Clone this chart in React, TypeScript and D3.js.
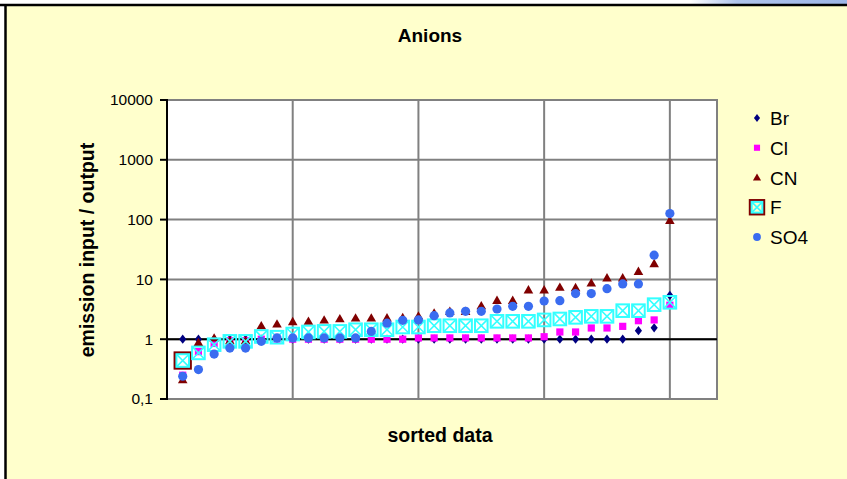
import React from "react";
import * as d3 from "d3";

const W = 847;
const H = 479;

const seriesNames = ["Br", "Cl", "CN", "F", "SO4"];

const brValues = [1, 1, 1, 1, 1, 1, 1, 1, 1, 1, 1, 1, 1, 1, 1, 1, 1, 1, 1, 1, 1, 1, 1, 1, 1, 1, 1, 1, 1, 1.39, 1.55, 5.4];
const clValues = [0.25, 0.62, 0.85, 0.95, 0.95, 1, 1, 1, 1, 1, 1, 1, 1, 1, 1, 1.05, 1.05, 1.05, 1.05, 1.05, 1.05, 1.05, 1.05, 1.1, 1.32, 1.32, 1.54, 1.54, 1.64, 2.04, 2.1, 3.7];
const cnValues = [0.21, 0.88, 1.05, 0.95, 0.95, 1.68, 1.8, 1.97, 2.0, 2.1, 2.2, 2.26, 2.26, 2.28, 2.3, 2.45, 2.75, 2.92, 2.92, 3.63, 4.46, 4.46, 6.7, 6.7, 7.4, 7.3, 8.7, 10.6, 10.6, 13.6, 18.4, 97];
const fValues = [0.44, 0.59, 0.81, 0.92, 0.92, 1.11, 1.08, 1.22, 1.32, 1.35, 1.35, 1.44, 1.44, 1.44, 1.6, 1.6, 1.68, 1.68, 1.68, 1.68, 1.99, 1.99, 1.99, 2.1, 2.18, 2.32, 2.41, 2.41, 3.0, 3.0, 3.78, 4.14];
const so4Values = [0.24, 0.31, 0.565, 0.71, 0.71, 0.92, 1.05, 1.05, 1.05, 1.05, 1.05, 1.05, 1.35, 1.85, 2.07, 2.1, 2.47, 2.75, 2.92, 2.92, 3.2, 3.55, 3.55, 4.35, 4.4, 5.8, 5.8, 7.0, 8.4, 8.4, 25.4, 126];

const yTickValues = [0.1, 1, 10, 100, 1000, 10000];
const yTickLabels = ["0,1", "1", "10", "100", "1000", "10000"];
const xGridValues = [8, 16, 24, 32];

const FONT = "'Liberation Sans', Arial, Helvetica, sans-serif";
const C_BR = "#000080";
const C_CL = "#FF00FF";
const C_CN = "#800000";
const C_F = "#33FFFF";
const C_SO4 = "#3A6CF0";

const plot = { left: 167, right: 717, top: 100, bottom: 399 };

const x = d3.scaleLinear().domain([0, 35]).range([plot.left, plot.right]);
const y = d3.scaleLog().domain([0.1, 10000]).range([plot.bottom, plot.top]);

function FMarker({ cx, cy, first, s }: { cx: number; cy: number; first?: boolean; s: number }) {
  return (
    <g transform={`translate(${cx},${cy})`}>
      {first && <rect x={-s - 1.6} y={-s - 1.6} width={2 * s + 3.2} height={2 * s + 3.2} fill="none" stroke={C_CN} strokeWidth={2.5} />}
      <rect x={-s} y={-s} width={2 * s} height={2 * s} fill="none" stroke={C_F} strokeWidth={2} />
      <path d={`M${-s},${-s}L${s},${s}M${s},${-s}L${-s},${s}`} stroke={C_F} strokeWidth={1.6} />
    </g>
  );
}

function Marker({ name, cx, cy, first, k = 1 }: { name: string; cx: number; cy: number; first?: boolean; k?: number }) {
  if (name === "Br") return <path d={`M0,${-4.6 * k}L${3.6 * k},0L0,${4.6 * k}L${-3.6 * k},0Z`} transform={`translate(${cx},${cy})`} fill={C_BR} />;
  if (name === "Cl") return <rect x={cx - 3.6 * k} y={cy - 3.6 * k} width={7.2 * k} height={7.2 * k} fill={C_CL} />;
  if (name === "CN") return <path d={`M0,${-4.8 * k}L${4.8 * k},${3.6 * k}L${-4.8 * k},${3.6 * k}Z`} transform={`translate(${cx},${cy})`} fill={C_CN} />;
  if (name === "F") return <FMarker cx={cx} cy={cy} first={first} s={6.3 * k} />;
  return <circle cx={cx} cy={cy} r={4.6 * k} fill={C_SO4} />;
}

const seriesValues: Record<string, number[]> = {
  Br: brValues,
  Cl: clValues,
  CN: cnValues,
  F: fValues,
  SO4: so4Values,
};

export default function App() {
  const legendY = d3.scalePoint<string>().domain(seriesNames).range([118, 237]);
  return (
    <svg width={W} height={H} style={{ display: "block", position: "absolute", left: 0, top: 0 }} fontFamily={FONT}>
      <rect x={0} y={0} width={W} height={H} fill="#FFFFFF" />
      <defs>
        <linearGradient id="topblue" x1="0" x2="1" y1="0" y2="0">
          <stop offset="0" stopColor="#AFC4EC" stopOpacity={0} />
          <stop offset="0.3" stopColor="#AFC4EC" stopOpacity={1} />
          <stop offset="1" stopColor="#9DB6E8" stopOpacity={1} />
        </linearGradient>
      </defs>
      <rect x={690} y={0} width={157} height={6} fill="url(#topblue)" />
      <rect x={5} y={5} width={W} height={H} fill="#FFFFCC" />
      <line x1={0} x2={W} y1={5} y2={5} stroke="#000" strokeWidth={2.5} />
      <line x1={5.5} x2={5.5} y1={4} y2={H} stroke="#000" strokeWidth={2.5} />

      <text x={430} y={42} textAnchor="middle" fontWeight="bold" fontSize={19}>Anions</text>

      <rect x={plot.left} y={plot.top} width={plot.right - plot.left} height={plot.bottom - plot.top} fill="#FFFFFF" stroke="#808080" strokeWidth={2} />
      {yTickValues.slice(1, -1).map((v) => (
        <line key={"hg" + v} x1={plot.left} x2={plot.right} y1={y(v)} y2={y(v)} stroke="#808080" strokeWidth={2} />
      ))}
      {xGridValues.map((v) => (
        <line key={"vg" + v} x1={x(v)} x2={x(v)} y1={plot.top} y2={plot.bottom} stroke="#808080" strokeWidth={2} />
      ))}
      <line x1={plot.left} x2={plot.right} y1={y(1)} y2={y(1)} stroke="#000" strokeWidth={2} />
      <line x1={plot.left} x2={plot.left} y1={plot.top - 1} y2={plot.bottom + 1} stroke="#000" strokeWidth={2} />
      {yTickValues.map((v, i) => (
        <g key={"yt" + v}>
          <line x1={plot.left - 7} x2={plot.left} y1={y(v)} y2={y(v)} stroke="#000" strokeWidth={2} />
          <text x={153} y={y(v)} dy="0.35em" textAnchor="end" fontSize={15.5}>{yTickLabels[i]}</text>
        </g>
      ))}

      {seriesNames.map((name) => (
        <g key={name}>
          {seriesValues[name].map((v, i) => (
            <Marker key={i} name={name} cx={x(i + 1)} cy={y(v)} first={i === 0} />
          ))}
        </g>
      ))}

      <text transform={`translate(94,250) rotate(-90)`} textAnchor="middle" fontWeight="bold" fontSize={19.5}>emission input / output</text>
      <text x={440} y={442} textAnchor="middle" fontWeight="bold" fontSize={19.5}>sorted data</text>

      {seriesNames.map((name) => (
        <g key={"lg" + name}>
          <Marker name={name} cx={757} cy={legendY(name) as number} first={true} k={0.85} />
          <text x={770} y={(legendY(name) as number) + 7} fontSize={19}>{name}</text>
        </g>
      ))}
    </svg>
  );
}
